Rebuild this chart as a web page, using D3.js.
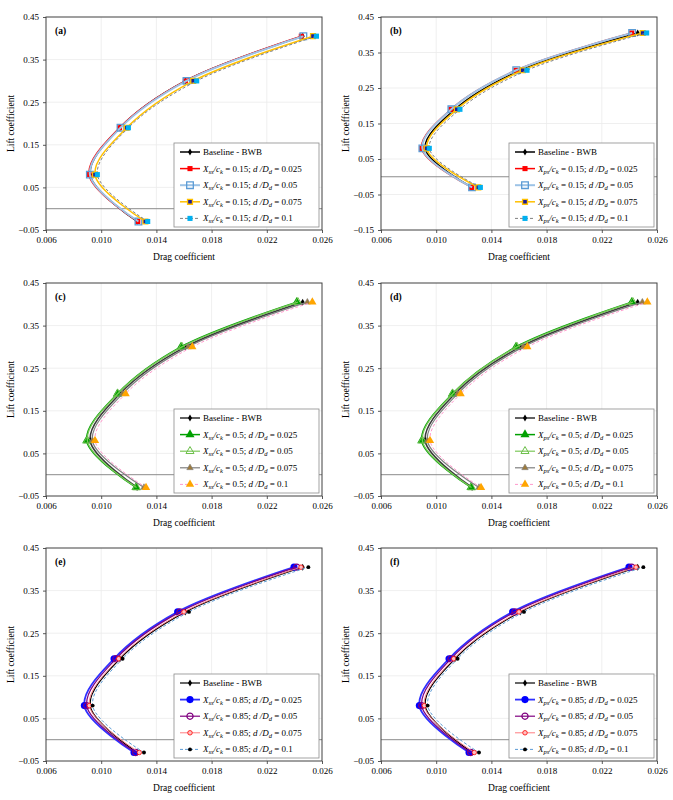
<!DOCTYPE html>
<html>
<head>
<meta charset="utf-8">
<script src="https://cdn.jsdelivr.net/npm/d3@7"></script>
<style>
body { margin: 0; background: #fff; }
svg text { font-family: "Liberation Serif", "Times New Roman", serif; fill: #000; }
</style>
</head>
<body>
<svg id="chart" width="673" height="800"></svg>
<script>
// lift coefficient of the 5 points on every polar
const liftCoef = [-0.03, 0.08, 0.19, 0.30, 0.405];
const cdBaseline = [0.0126, 0.0092, 0.01136, 0.0161, 0.0246];

// drag coefficient per panel, one row per d/Dd
const cdA = [
    [0.01265, 0.00912, 0.01133, 0.0161, 0.0245],
    [0.0127, 0.00918, 0.0114, 0.01618, 0.02465],
    [0.0132, 0.00955, 0.01185, 0.01667, 0.02535],
    [0.01337, 0.00972, 0.01197, 0.01692, 0.0256]
];
const cdB = [
    [0.01257, 0.00895, 0.01107, 0.01578, 0.02417],
    [0.0126, 0.009, 0.0111, 0.0158, 0.0242],
    [0.01305, 0.00931, 0.01149, 0.01627, 0.02496],
    [0.0132, 0.0095, 0.01172, 0.01658, 0.02525]
];
const cdC = [
    [0.01252, 0.00895, 0.01117, 0.01578, 0.02417],
    [0.01256, 0.009, 0.0112, 0.01585, 0.02425],
    [0.0131, 0.00936, 0.01155, 0.01631, 0.02494],
    [0.01325, 0.00955, 0.01177, 0.0166, 0.0253]
];
const cdD = [
    [0.01252, 0.00895, 0.01117, 0.01578, 0.02417],
    [0.01256, 0.009, 0.0112, 0.01585, 0.02425],
    [0.0131, 0.00936, 0.01155, 0.01631, 0.02494],
    [0.01325, 0.00955, 0.01177, 0.0166, 0.0253]
];
const cdE = [
    [0.01238, 0.00878, 0.01093, 0.01554, 0.02397],
    [0.0125, 0.00895, 0.01107, 0.01571, 0.02417],
    [0.01276, 0.00914, 0.01127, 0.016, 0.02448],
    [0.0131, 0.00938, 0.01155, 0.01636, 0.02501]
];
const cdF = [
    [0.01238, 0.00878, 0.01093, 0.01554, 0.02397],
    [0.0125, 0.00895, 0.01107, 0.01571, 0.02417],
    [0.01276, 0.00914, 0.01127, 0.016, 0.02448],
    [0.0131, 0.00938, 0.01155, 0.01636, 0.02501]
];

const panelLetters = ["(a)", "(b)", "(c)", "(d)", "(e)", "(f)"];
const sensorSide = ["ss", "ps", "ss", "ps", "ss", "ps"];
const xOverC = ["0.15", "0.15", "0.5", "0.5", "0.85", "0.85"];
const dRatios = ["0.025", "0.05", "0.075", "0.1"];
const xTicks = [0.006, 0.010, 0.014, 0.018, 0.022, 0.026];
const yTicks = [-0.05, 0.05, 0.15, 0.25, 0.35, 0.45];
const yTicksWide = [-0.15, -0.05, 0.05, 0.15, 0.25, 0.35, 0.45];

const panelData = [cdA, cdB, cdC, cdD, cdE, cdF];

// styles: baseline + 4 series, one set per row
const baseStyles = [
    { color: "#000", width: 1.5, marker: "diamond", size: 14, fill: "#000", stroke: "none" },
    { color: "#3a3a3a", width: 1.6, marker: "diamond", size: 14, fill: "#000", stroke: "none" },
    { color: "#000", width: 1.2, marker: "diamond", size: 14, fill: "#000", stroke: "none" }
];
const rowStyles = [
    [
        { color: "#ff0000", width: 1.5, marker: "square", size: 26, fill: "#ff0000", stroke: "none" },
        { color: "#9dc3e6", width: 2, marker: "square", size: 44, fill: "none", stroke: "#5b9bd5", sw: 1.3 },
        { color: "#ffc000", width: 1.5, marker: "square", size: 24, fill: "#1c1c96", stroke: "#ffc000", sw: 1.3 },
        { color: "#808080", width: 1, dash: "3,2", marker: "square", size: 26, fill: "#00b0f0", stroke: "none" }
    ],
    [
        { color: "#00a000", width: 1.5, marker: "triangle", size: 36, fill: "#00a000", stroke: "none" },
        { color: "#7cc85a", width: 1.2, marker: "triangle", size: 28, fill: "none", stroke: "#6cbf4a", sw: 1 },
        { color: "#7f7f7f", width: 1.2, marker: "triangle", size: 18, fill: "#9c7a3c", stroke: "#7f7f7f", sw: 0.6 },
        { color: "#ff99cc", width: 1, dash: "3,2", marker: "triangle", size: 30, fill: "#ffa500", stroke: "none" }
    ],
    [
        { color: "#3030ff", width: 1.8, marker: "circle", size: 40, fill: "#0000ff", stroke: "none" },
        { color: "#800080", width: 1.2, marker: "circle", size: 30, fill: "none", stroke: "#800080", sw: 1.2 },
        { color: "#ff7c80", width: 1, marker: "circle", size: 16, fill: "#ffc0c0", stroke: "#ff0000", sw: 0.8 },
        { color: "#5b9bd5", width: 1, dash: "3,2", marker: "circle", size: 12, fill: "#000", stroke: "none" }
    ]
];

const symbolTypes = {
    square: d3.symbolSquare,
    triangle: d3.symbolTriangle,
    circle: d3.symbolCircle,
    diamond: d3.symbolDiamond
};

const svg = d3.select("#chart");

const plotW = 276, plotH = 213;
const colX = [46, 381];
const rowY = [17, 283, 548];

function drawMarker(g, st, x, y) {
    g.append("path")
        .attr("d", d3.symbol().type(symbolTypes[st.marker]).size(st.size)())
        .attr("transform", "translate(" + x + "," + y + ")")
        .attr("fill", st.fill)
        .attr("stroke", st.stroke)
        .attr("stroke-width", st.sw || 0);
}

function addLabel(text, side, xc, ratio) {
    text.append("tspan").attr("font-style", "italic").text("X");
    text.append("tspan").attr("font-style", "italic").attr("font-size", 6.5).attr("dy", 2).text(side);
    text.append("tspan").attr("font-style", "italic").attr("dy", -2).text("/c");
    text.append("tspan").attr("font-style", "italic").attr("font-size", 6.5).attr("dy", 2).text("k");
    text.append("tspan").attr("dy", -2).text(" = " + xc + "; ");
    text.append("tspan").attr("font-style", "italic").text("d /D");
    text.append("tspan").attr("font-style", "italic").attr("font-size", 6.5).attr("dy", 2).text("d");
    text.append("tspan").attr("dy", -2).text(" = " + ratio);
}

panelData.forEach((cd, p) => {
    const row = Math.floor(p / 2), col = p % 2;
    const left = colX[col], top = rowY[row];
    const ticksY = p === 1 ? yTicksWide : yTicks;
    const styles = rowStyles[row];

    const x = d3.scaleLinear().domain([0.006, 0.026]).range([left, left + plotW]);
    const y = d3.scaleLinear().domain([ticksY[0], 0.45]).range([top + plotH, top]);

    const g = svg.append("g");

    // grid
    g.append("g").selectAll("line").data(xTicks.slice(1, -1)).enter().append("line")
        .attr("x1", d => x(d)).attr("x2", d => x(d))
        .attr("y1", top).attr("y2", top + plotH)
        .attr("stroke", "#ebebeb").attr("stroke-width", 0.8);
    g.append("g").selectAll("line").data(ticksY.slice(1, -1)).enter().append("line")
        .attr("x1", left).attr("x2", left + plotW)
        .attr("y1", d => y(d)).attr("y2", d => y(d))
        .attr("stroke", "#ebebeb").attr("stroke-width", 0.8);

    // zero lift line
    g.append("line")
        .attr("x1", left).attr("x2", left + plotW)
        .attr("y1", y(0)).attr("y2", y(0))
        .attr("stroke", "#8c8c8c").attr("stroke-width", 1);

    // axes
    const xAxis = g.append("g").attr("transform", "translate(0," + (top + plotH) + ")")
        .call(d3.axisBottom(x).tickValues(xTicks).tickFormat(d3.format(".3f")).tickSize(3).tickPadding(4));
    const yAxis = g.append("g").attr("transform", "translate(" + left + ",0)")
        .call(d3.axisLeft(y).tickValues(ticksY).tickFormat(d3.format(".2f")).tickSize(3).tickPadding(4));
    [xAxis, yAxis].forEach(a => {
        a.select(".domain").remove();
        a.selectAll(".tick line").attr("stroke", "#595959");
        a.selectAll("text").attr("font-size", 9).attr("fill", "#222");
    });

    // border
    g.append("rect")
        .attr("x", left).attr("y", top).attr("width", plotW).attr("height", plotH)
        .attr("fill", "none").attr("stroke", "#404040").attr("stroke-width", 1);

    // axis titles
    g.append("text")
        .attr("x", left + plotW / 2).attr("y", top + plotH + 30)
        .attr("text-anchor", "middle").attr("font-size", 9.5)
        .text("Drag coefficient");
    g.append("text")
        .attr("transform", "translate(" + (left - 32) + "," + (top + plotH / 2) + ") rotate(-90)")
        .attr("text-anchor", "middle").attr("font-size", 9.5)
        .text("Lift coefficient");

    // panel letter
    g.append("text")
        .attr("x", left + 9).attr("y", top + 17)
        .attr("font-size", 9.5).attr("font-weight", "bold")
        .text(panelLetters[p]);

    // series
    const curve = d3.line()
        .x(d => x(d[0])).y(d => y(d[1]))
        .curve(d3.curveCatmullRom.alpha(0.5));
    const allSeries = [cdBaseline].concat(cd);
    const allStyles = [baseStyles[row]].concat(styles);
    allSeries.forEach((vals, s) => {
        const st = allStyles[s];
        const pts = vals.map((v, i) => [v, liftCoef[i]]);
        g.append("path")
            .attr("d", curve(pts))
            .attr("fill", "none")
            .attr("stroke", st.color)
            .attr("stroke-width", st.width)
            .attr("stroke-dasharray", st.dash || null);
        pts.forEach(pt => drawMarker(g, st, x(pt[0]), y(pt[1])));
    });

    // legend
    const lx = left + 128, ly = top + 126, lw = 145, lh = 84;
    const leg = g.append("g");
    leg.append("rect")
        .attr("x", lx).attr("y", ly).attr("width", lw).attr("height", lh)
        .attr("fill", "#fff").attr("stroke", "#8c8c8c").attr("stroke-width", 0.8);
    allStyles.forEach((st, s) => {
        const ry = ly + 9 + s * 16.6;
        leg.append("line")
            .attr("x1", lx + 6).attr("x2", lx + 26)
            .attr("y1", ry).attr("y2", ry)
            .attr("stroke", st.color).attr("stroke-width", st.width)
            .attr("stroke-dasharray", st.dash || null);
        drawMarker(leg, st, lx + 16, ry);
        const t = leg.append("text")
            .attr("x", lx + 29).attr("y", ry + 3)
            .attr("font-size", 9);
        if (s === 0) t.text("Baseline - BWB");
        else addLabel(t, sensorSide[p], xOverC[p], dRatios[s - 1]);
    });
});
</script>
</body>
</html>
